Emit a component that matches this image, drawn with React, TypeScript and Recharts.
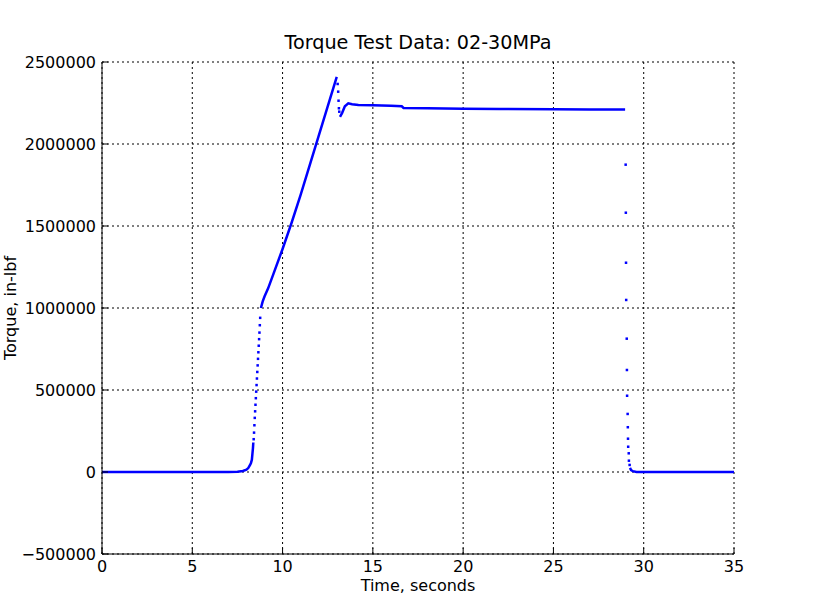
import { CartesianGrid, ComposedChart, Line, Scatter, XAxis, YAxis } from "recharts";

const xTicks = [0, 5, 10, 15, 20, 25, 30, 35];
const yTicks = [-500000, 0, 500000, 1000000, 1500000, 2000000, 2500000];

// continuous stretches of the trace (time in s, torque in in-lbf)
const idleTime = [0, 1, 2, 3, 4, 5, 6, 7, 7.5, 7.8, 8.0, 8.1, 8.2, 8.25, 8.3, 8.33, 8.36, 8.38];
const idleTorque = [0, 0, 0, 0, 0, 0, 0, 0, 2000, 6000, 14000, 24000, 43000, 55000, 75000, 110000, 146000, 180000];

const rampTime = [8.8, 8.9, 9.0, 9.2, 9.5, 10, 10.5, 11, 11.5, 12, 12.5, 13.0];
const rampTorque = [1000000, 1040000, 1070000, 1120000, 1210000, 1360000, 1520000, 1690000, 1870000, 2050000, 2230000, 2410000];

const holdTime = [13.18, 13.3, 13.45, 13.64, 13.85, 14.2, 15, 16, 16.6, 16.7, 18, 20, 22, 25, 27, 28.97];
const holdTorque = [2166000, 2190000, 2230000, 2248000, 2242000, 2238000, 2236000, 2233000, 2230000, 2220000, 2218000, 2215000, 2213000, 2212000, 2211000, 2210000];

const tailTime = [29.24, 29.3, 29.4, 29.6, 31, 33, 35];
const tailTorque = [25000, 12000, 5000, 0, 0, 0, 0];

// isolated samples where the torque moved fast
const riseTime = [8.4, 8.42, 8.44, 8.46, 8.48, 8.5, 8.52, 8.54, 8.56, 8.58, 8.6, 8.62, 8.64, 8.66, 8.68, 8.7, 8.72, 8.74, 8.76];
const riseTorque = [200000, 240000, 285000, 330000, 370000, 410000, 450000, 490000, 530000, 570000, 610000, 650000, 690000, 730000, 770000, 810000, 850000, 895000, 940000];

const slipTime = [13.05, 13.08, 13.1, 13.12, 13.14];
const slipTorque = [2366000, 2319000, 2264000, 2218000, 2197000];

const releaseTime = [29.0, 29.01, 29.02, 29.03, 29.06, 29.07, 29.08, 29.11, 29.12, 29.13, 29.14, 29.17, 29.18, 29.22];
const releaseTorque = [1874000, 1581000, 1276000, 1049000, 813000, 622000, 465000, 354000, 273000, 203000, 154000, 114000, 69000, 43000];

const segments: [number[], number[]][] = [
  [idleTime, idleTorque],
  [rampTime, rampTorque],
  [holdTime, holdTorque],
  [tailTime, tailTorque],
];

const lineData = segments.flatMap(([ts, vs], i) => {
  const pts: { t: number; v: number | null }[] = ts.map((t, j) => ({ t, v: vs[j] }));
  if (i < segments.length - 1) pts.push({ t: ts[ts.length - 1], v: null });
  return pts;
});

const dotData = [
  [riseTime, riseTorque],
  [slipTime, slipTorque],
  [releaseTime, releaseTorque],
].flatMap(([ts, vs]) => ts.map((t, j) => ({ t, v: vs[j] })));

const font = "DejaVu Sans, sans-serif";
const tickStyle = { fontSize: 16, fill: "#000", fontFamily: font };
const fmt = (v: number) => String(v).replace("-", "\u2212");

const Dot = (props: any) => (
  <rect x={props.cx - 1.25} y={props.cy - 1.25} width={2.5} height={2.5} fill="#0000ff" />
);

export default function App() {
  return (
    <div style={{ position: "absolute", left: 0, top: 0, width: 815, height: 615, background: "#fff" }}>
      <ComposedChart
        width={815}
        height={615}
        data={lineData}
        margin={{ top: 62, right: 81, bottom: 31, left: 12 }}
      >
        <CartesianGrid stroke="#000" strokeDasharray="2 3" strokeWidth={1} />
        <XAxis
          dataKey="t"
          type="number"
          domain={[0, 35]}
          ticks={xTicks}
          allowDataOverflow
          height={30}
          tick={tickStyle}
          tickSize={-6}
          tickMargin={13}
          axisLine={{ stroke: "#000" }}
          tickLine={{ stroke: "#000" }}
        />
        <XAxis
          xAxisId="top"
          orientation="top"
          type="number"
          domain={[0, 35]}
          ticks={xTicks}
          allowDataOverflow
          height={0}
          tick={() => <g />}
          tickSize={-6}
          axisLine={{ stroke: "#000" }}
          tickLine={{ stroke: "#000" }}
        />
        <YAxis
          dataKey="v"
          type="number"
          domain={[-500000, 2500000]}
          ticks={yTicks}
          allowDataOverflow
          width={90}
          tick={tickStyle}
          tickFormatter={fmt}
          tickSize={-6}
          tickMargin={12}
          axisLine={{ stroke: "#000" }}
          tickLine={{ stroke: "#000" }}
        />
        <YAxis
          yAxisId="right"
          orientation="right"
          type="number"
          domain={[-500000, 2500000]}
          ticks={yTicks}
          allowDataOverflow
          width={0}
          tick={() => <g />}
          tickSize={-6}
          axisLine={{ stroke: "#000" }}
          tickLine={{ stroke: "#000" }}
        />
        <Line
          dataKey="v"
          stroke="#0000ff"
          strokeWidth={2.5}
          dot={false}
          connectNulls={false}
          isAnimationActive={false}
        />
        <Scatter data={dotData} dataKey="v" fill="#0000ff" shape={Dot} isAnimationActive={false} />
      </ComposedChart>
      <svg
        width={815}
        height={615}
        style={{ position: "absolute", left: 0, top: 0, pointerEvents: "none" }}
      >
        <text x={418} y={49} textAnchor="middle" fontSize={19.2} fontFamily={font} fill="#000">
          Torque Test Data: 02-30MPa
        </text>
        <text x={418} y={591} textAnchor="middle" fontSize={16} fontFamily={font} fill="#000">
          Time, seconds
        </text>
        <text
          transform="translate(16, 308) rotate(-90)"
          textAnchor="middle"
          fontSize={16}
          fontFamily={font}
          fill="#000"
        >
          Torque, in-lbf
        </text>
      </svg>
    </div>
  );
}
